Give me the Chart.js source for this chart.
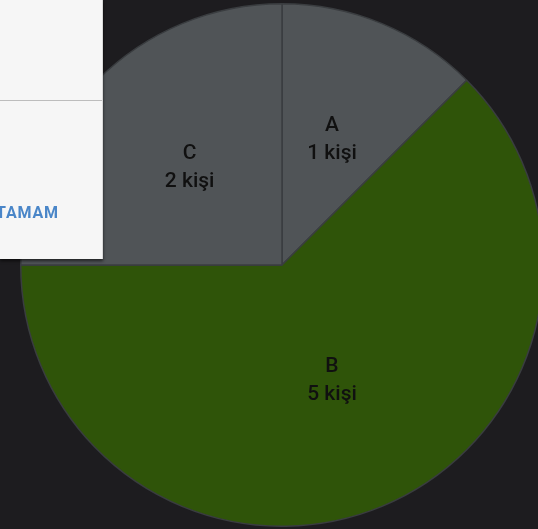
<!DOCTYPE html>
<html>
<head>
<meta charset="utf-8">
<script src="https://cdn.jsdelivr.net/npm/chart.js@4/dist/chart.umd.min.js"></script>
<style>
  html, body { margin: 0; padding: 0; width: 538px; height: 529px; overflow: hidden; background: #1d1c1f; }
  #wrap { position: absolute; left: 20px; top: 3px; width: 524px; height: 524px; }
  #dialog {
    position: absolute; left: 0; top: 0; width: 102px; height: 259px;
    background: #f6f6f6; border-right: 1px solid #d9d9d9;
    box-shadow: 0 2px 3px rgba(0,0,0,0.6);
  }
  #dialog .sep { position: absolute; left: 0; top: 100px; width: 102px; height: 1px; background: #bdbdbd; }
  #dialog .btn {
    position: absolute; left: -4px; top: 203px;
    font-family: Roboto, "Noto Sans", sans-serif; font-weight: bold; font-size: 16px;
    color: #4a86c8; letter-spacing: 0.8px;
  }
</style>
</head>
<body>
<div id="wrap"><canvas id="c" width="524" height="524"></canvas></div>
<div id="dialog"><div class="sep"></div><div class="btn">TAMAM</div></div>
<script>
// People per option
const labels = ['A', 'B', 'C'];
const counts = [1, 5, 2];
const unit = 'kişi';
const colors = ['#505457', '#2f5409', '#505457'];

// Writes "name / n kişi" at the middle of each slice
const sliceLabels = {
  id: 'sliceLabels',
  afterDatasetsDraw(chart) {
    const ctx = chart.ctx;
    const meta = chart.getDatasetMeta(0);
    ctx.save();
    ctx.fillStyle = '#101010';
    ctx.textAlign = 'center';
    ctx.textBaseline = 'middle';
    ctx.font = '500 21px Roboto, "Noto Sans", sans-serif';
    meta.data.forEach((arc, i) => {
      const p = arc.tooltipPosition();
      ctx.fillText(labels[i], p.x, p.y - 19);
      ctx.fillText(counts[i] + ' ' + unit, p.x, p.y + 9);
    });
    ctx.restore();
  }
};

new Chart(document.getElementById('c'), {
  type: 'pie',
  data: {
    labels: labels,
    datasets: [{
      data: counts,
      backgroundColor: colors,
      borderColor: '#3a3d40',
      borderWidth: 1.5
    }]
  },
  options: {
    responsive: false,
    animation: false,
    layout: { padding: 0 },
    plugins: { legend: { display: false }, tooltip: { enabled: false } }
  },
  plugins: [sliceLabels]
});
</script>
</body>
</html>
